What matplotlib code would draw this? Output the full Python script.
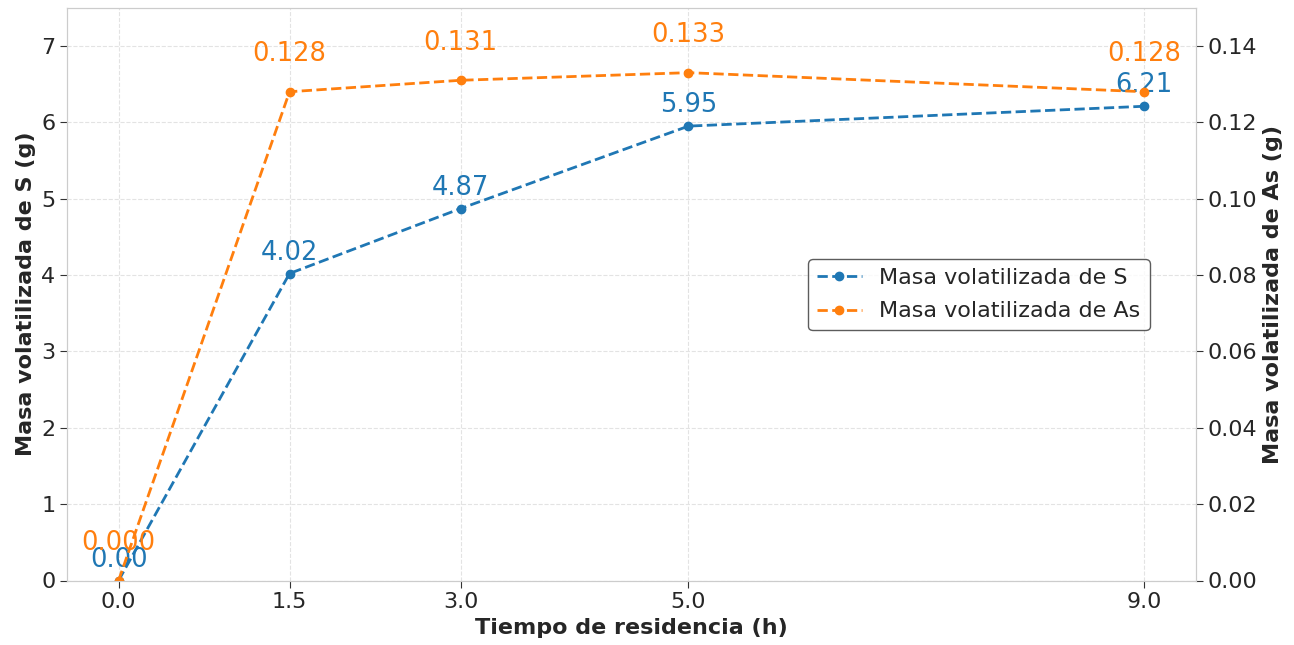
import matplotlib
matplotlib.use("Agg")
import matplotlib.pyplot as plt
import seaborn as sns

# === Data ===
tiempo = [0.0, 1.5, 3.0, 5.0, 9.0]
masa_s = [0.00, 4.02, 4.87, 5.95, 6.21]
masa_as = [0.000, 0.128, 0.131, 0.133, 0.128]

sns.set_style("whitegrid", {"grid.linestyle": "--", "grid.color": "#e3e3e3",
                            "axes.edgecolor": "#cccccc"})
plt.rcParams["font.family"] = ["DejaVu Sans"]

c_s = "#1f77b4"
c_as = "#ff7f0e"

fig, ax1 = plt.subplots(figsize=(12.94, 6.45), dpi=100)
ax2 = ax1.twinx()

l1, = ax1.plot(tiempo, masa_s, "--o", color=c_s, lw=2, ms=6, label="Masa volatilizada de S")
l2, = ax2.plot(tiempo, masa_as, "--o", color=c_as, lw=2, ms=6, label="Masa volatilizada de As")

# etiquetas de valores (se solapan en t=0, igual que el original)
for x, y in zip(tiempo, masa_s):
    ax1.annotate(f"{y:.2f}", (x, y), xytext=(0, 10), textcoords="offset points",
                 ha="center", va="baseline", color=c_s, fontsize=18.5)
for x, y in zip(tiempo, masa_as):
    ax2.annotate(f"{y:.3f}", (x, y), xytext=(0, 22), textcoords="offset points",
                 ha="center", va="baseline", color=c_as, fontsize=18.5)

ax1.set_ylim(0, 7.5)
ax2.set_ylim(0, 0.15)
ax1.set_xticks(tiempo)
ax1.set_xticklabels([f"{t:.1f}" for t in tiempo])

ax1.set_xlabel("Tiempo de residencia (h)", fontsize=16, fontweight="bold")
ax1.set_ylabel("Masa volatilizada de S (g)", fontsize=16, fontweight="bold")
ax2.set_ylabel("Masa volatilizada de As (g)", fontsize=16, fontweight="bold")

for ax in (ax1, ax2):
    ax.tick_params(axis="both", labelsize=16, length=5, color="#333333",
                   direction="out", left=(ax is ax1), right=(ax is ax2), bottom=True)
    for sp in ax.spines.values():
        sp.set_color("#cccccc")
ax2.grid(False)

ax1.legend([l1, l2], [l1.get_label(), l2.get_label()], loc="center right",
           bbox_to_anchor=(0.969, 0.499), fontsize=16, frameon=True,
           edgecolor="#333333", fancybox=True, labelspacing=0.6)

fig.subplots_adjust(left=0.052, right=0.924, top=0.988, bottom=0.1)
fig.savefig("out.png", dpi=100)
